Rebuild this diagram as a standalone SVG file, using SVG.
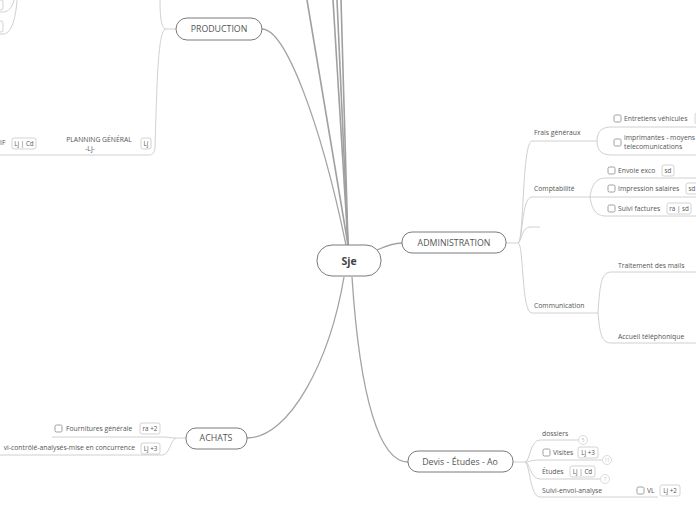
<svg xmlns="http://www.w3.org/2000/svg" width="696" height="520" viewBox="0 0 696 520">
<defs>
<style>
.main{fill:none;stroke:#a3a3a3;stroke-width:1.3}
.top{fill:none;stroke:#a0a0a0;stroke-width:1.6}
.sub{fill:none;stroke:#d0d0d0;stroke-width:1}
.node{fill:#fff;stroke:#7a7a7a;stroke-width:1}
.nt{font-family:"Open Sans","Noto Sans",sans-serif;font-size:8.8px;fill:#555;text-anchor:middle}
.ct{font-family:"Open Sans","Noto Sans",sans-serif;font-size:10.5px;font-weight:bold;fill:#444;text-anchor:middle}
.t{font-family:"Open Sans","Noto Sans",sans-serif;font-size:6.8px;fill:#555}
.tag{fill:#fff;stroke:#c8c8c8;stroke-width:0.8}
.tt{font-family:"Open Sans","Noto Sans",sans-serif;font-size:6.3px;fill:#555;text-anchor:middle}
.cb{fill:#fff;stroke:#888;stroke-width:0.8}
.circ{fill:#fff;stroke:#d0d0d0;stroke-width:0.8}
.cn{font-family:"Open Sans","Noto Sans",sans-serif;font-size:4.5px;fill:#bbb;text-anchor:middle}
</style>
</defs>
<g id="connectors">
<path class="top" d="M 348 245 L 307 0"/>
<path class="top" d="M 348 245 L 333 0"/>
<path class="top" d="M 348 245 L 337 0"/>
<path class="top" d="M 348 245 L 341 0"/>
<path class="main" d="M 262 29 C 285 29, 320 120, 346 245"/>
<path class="main" d="M 247 438 C 290 438, 330 360, 344 277"/>
<path class="main" d="M 352 277 C 360 400, 380 462, 408 462"/>
<path class="main" d="M 377 250 C 388 245, 394 243, 402 243"/>
<path class="sub" d="M 176 29 L 166 29 C 161 29, 160 15, 160 0"/>
<path class="sub" d="M 166 29 C 158 29, 157 80, 155 148 C 154 154, 152 155, 148 155 L 0 155"/>
<path class="sub" d="M 17 0 C 16 16, 12 33, 4 34 L 0 34"/>
<path class="sub" d="M 14 0 C 12 8, 8 12, 3 12 L 0 12"/>
<path class="sub" d="M 186 438 L 176 438 C 170 438, 168 437, 162 437 L 52 437"/>
<path class="sub" d="M 176 438 C 170 440, 170 455, 162 455 L 0 455"/>
<path class="sub" d="M 506 243 L 518 243 C 524 243, 522 141, 532 141 L 590 141"/>
<path class="sub" d="M 518 243 C 523 243, 521 197, 532 197 L 590 197"/>
<path class="sub" d="M 518 243 C 522 240, 522 227, 530 227 L 540 227"/>
<path class="sub" d="M 518 243 C 524 243, 521 313, 532 313 L 598 313"/>
<path class="sub" d="M 590 141 L 597 141 C 597 130, 603 127, 612 127 L 696 127"/>
<path class="sub" d="M 597 141 C 597 152, 603 155, 612 155 L 696 155"/>
<path class="sub" d="M 590 197 C 592 182, 598 178, 606 178 L 696 178"/>
<path class="sub" d="M 590 197 L 696 197"/>
<path class="sub" d="M 590 197 C 592 212, 598 216, 606 216 L 696 216"/>
<path class="sub" d="M 598 313 C 600 280, 602 272, 612 272 L 696 272"/>
<path class="sub" d="M 598 313 C 600 336, 602 343, 612 343 L 696 343"/>
<path class="sub" d="M 513 462 L 525 462 C 530 462, 530 440, 540 440 L 578 440"/>
<path class="sub" d="M 525 462 C 530 462, 530 460, 540 460 L 602 460"/>
<path class="sub" d="M 525 462 C 530 462, 530 479, 540 479 L 600 479"/>
<path class="sub" d="M 525 462 C 530 464, 530 497, 540 497 L 658 497"/>
</g>
<g id="sje">
<rect class="node" x="317" y="245" width="64" height="31" rx="15"/>
<text class="ct" x="349" y="265">Sje</text>
</g>
<g id="production">
<rect class="node" x="176" y="18" width="86" height="22" rx="11"/>
<text class="nt" x="219" y="32">PRODUCTION</text>
</g>
<g id="prod-topleft">
<rect class="tag" x="-20" y="0" width="23" height="10" rx="2"/>
<rect class="tag" x="-20" y="21" width="23" height="11" rx="2"/>
</g>
<g id="if">
<text class="t" x="0" y="145">IF</text>
<rect class="tag" x="12" y="138" width="24" height="11" rx="2"/>
<text class="tt" x="24" y="146">Lj | Cd</text>
</g>
<g id="planning">
<text class="t" x="99" y="142" text-anchor="middle">PLANNING GÉNÉRAL</text>
<text class="t" x="90" y="151" text-anchor="middle">-Lj-</text>
<rect class="tag" x="141" y="138" width="10" height="11" rx="2"/>
<text class="tt" x="146" y="146">Lj</text>
</g>
<g id="achats">
<rect class="node" x="186" y="428" width="61" height="21" rx="10"/>
<text class="nt" x="216" y="441">ACHATS</text>
</g>
<g id="fournitures">
<rect class="cb" x="55" y="425" width="7" height="7" rx="1.5"/>
<text class="t" x="66" y="431">Fournitures générale</text>
<rect class="tag" x="140" y="423" width="20" height="11" rx="2"/>
<text class="tt" x="150" y="431">ra +2</text>
</g>
<g id="suivi-controle">
<text class="t" x="135" y="450" text-anchor="end">vi-contrôlé-analysés-mise en concurrence</text>
<rect class="tag" x="141" y="443" width="19" height="11" rx="2"/>
<text class="tt" x="150.5" y="451">Lj +3</text>
</g>
<g id="administration">
<rect class="node" x="402" y="232" width="104" height="21" rx="10"/>
<text class="nt" x="454" y="246">ADMINISTRATION</text>
</g>
<g id="frais">
<text class="t" x="534" y="135">Frais généraux</text>
</g>
<g id="entretiens">
<rect class="cb" x="614" y="115" width="7" height="7" rx="1.5"/>
<text class="t" x="624" y="121">Entretiens véhicules</text>
<rect class="tag" x="695" y="113" width="20" height="11" rx="2"/>
</g>
<g id="imprimantes">
<rect class="cb" x="614" y="139" width="7" height="7" rx="1.5"/>
<text class="t" x="624" y="140">imprimantes - moyens</text>
<text class="t" x="624" y="149">telecomunications</text>
</g>
<g id="comptabilite">
<text class="t" x="534" y="191">Comptabilité</text>
</g>
<g id="envoie">
<rect class="cb" x="608" y="167" width="7" height="7" rx="1.5"/>
<text class="t" x="618" y="173">Envoie exco</text>
<rect class="tag" x="662" y="165" width="12" height="11" rx="2"/>
<text class="tt" x="668" y="173">sd</text>
</g>
<g id="impression">
<rect class="cb" x="608" y="185" width="7" height="7" rx="1.5"/>
<text class="t" x="618" y="191">Impression salaires</text>
<rect class="tag" x="686" y="183" width="12" height="11" rx="2"/>
<text class="tt" x="692" y="191">sd</text>
</g>
<g id="suivi-factures">
<rect class="cb" x="608" y="205" width="7" height="7" rx="1.5"/>
<text class="t" x="618" y="211">Suivi factures</text>
<rect class="tag" x="667" y="203" width="24" height="11" rx="2"/>
<text class="tt" x="679" y="211">ra | sd</text>
</g>
<g id="empty-admin"></g>
<g id="communication">
<text class="t" x="534" y="308">Communication</text>
</g>
<g id="traitement">
<text class="t" x="618" y="268">Traitement des mails</text>
</g>
<g id="accueil">
<text class="t" x="618" y="339">Accueil téléphonique</text>
</g>
<g id="devis">
<rect class="node" x="408" y="451" width="105" height="21" rx="10"/>
<text class="nt" x="460" y="465">Devis - Études - Ao</text>
</g>
<g id="dossiers">
<text class="t" x="542" y="436">dossiers</text>
<circle class="circ" cx="583" cy="440" r="4.5"/>
<text class="cn" x="583" y="441.5">5</text>
</g>
<g id="visites">
<rect class="cb" x="543" y="449" width="7" height="7" rx="1.5"/>
<text class="t" x="553" y="455">Visites</text>
<rect class="tag" x="578" y="447" width="20" height="11" rx="2"/>
<text class="tt" x="588" y="455">Lj +3</text>
<circle class="circ" cx="607" cy="460" r="4.5"/>
<text class="cn" x="607" y="461.5">11</text>
</g>
<g id="etudes">
<text class="t" x="542" y="474">Études</text>
<rect class="tag" x="570" y="466" width="25" height="11" rx="2"/>
<text class="tt" x="582.5" y="474">Lj | Cd</text>
<circle class="circ" cx="605" cy="479" r="4.5"/>
<text class="cn" x="605" y="480.5">7</text>
</g>
<g id="suivi-envoi">
<text class="t" x="542" y="493">Suivi-envoi-analyse</text>
</g>
<g id="vl">
<rect class="cb" x="637" y="487" width="7" height="7" rx="1.5"/>
<text class="t" x="647" y="493">VL</text>
<rect class="tag" x="660" y="485" width="20" height="11" rx="2"/>
<text class="tt" x="670" y="493">Lj +2</text>
</g>
</svg>
